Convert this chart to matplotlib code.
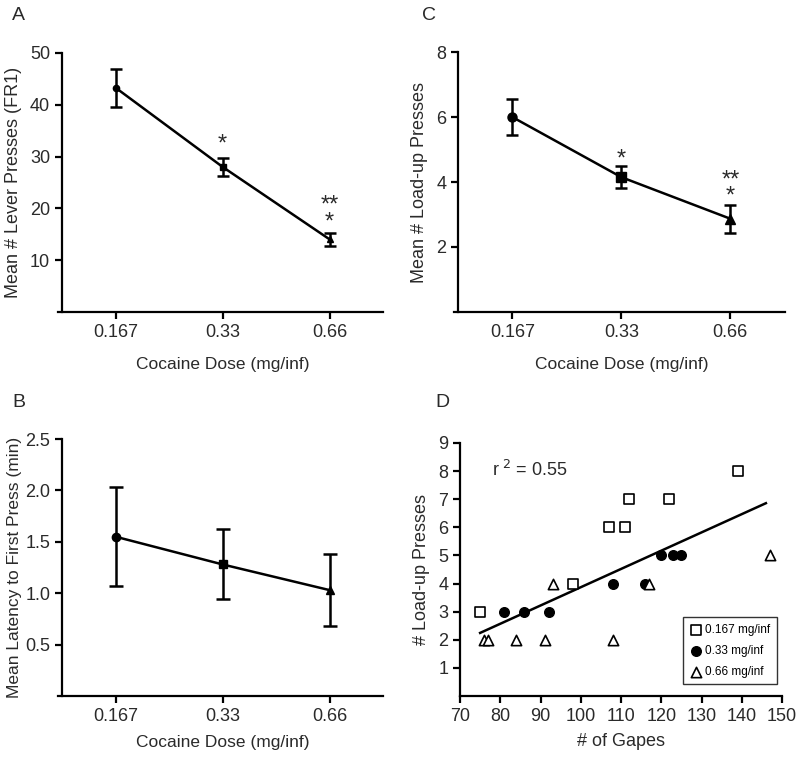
import numpy as np
import matplotlib
matplotlib.use("Agg")
import matplotlib.pyplot as plt

plt.rcParams['font.family'] = ['Liberation Sans', 'DejaVu Sans']
plt.rcParams['axes.linewidth'] = 1.6

doses = ['0.167', '0.33', '0.66']
markers = ['o', 's', '^']

# panel A: lever presses FR1
a_mean = [43.3, 28.0, 14.0]
a_err = [3.7, 1.8, 1.2]
# panel C: load-up presses
c_mean = [6.0, 4.15, 2.87]
c_err = [0.55, 0.33, 0.43]
# panel B: latency to first press
b_mean = [1.55, 1.28, 1.03]
b_err = [0.48, 0.34, 0.35]

# panel D: scatter (gapes vs load-up presses)
sq_x = [75, 98, 107, 111, 112, 122, 139]
sq_y = [3, 4, 6, 6, 7, 7, 8]
ci_x = [81, 86, 92, 108, 116, 120, 123, 125]
ci_y = [3, 3, 3, 4, 4, 5, 5, 5]
tr_x = [76, 77, 84, 91, 93, 108, 117, 147]
tr_y = [2, 2, 2, 2, 4, 2, 4, 5]

fig = plt.figure(figsize=(8, 7.57), dpi=100)
txtcol = '#2a2a2a'


def dose_panel(rect, mean, err, ylim, yticks, ylabel, msize, cap, fmt=None,
               ylfs=13, ylpad=6, xlpad=12):
    ax = fig.add_axes(rect)
    x = np.arange(len(mean))
    ax.plot(x, mean, color='black', lw=1.8, zorder=2)
    for i in range(len(mean)):
        ax.errorbar(x[i], mean[i], yerr=err[i], fmt=markers[i], color='black',
                    ms=msize, capsize=cap, elinewidth=1.8, capthick=1.8, zorder=3)
    ax.set_xlim(-0.5, 2.5)
    ax.set_ylim(*ylim)
    ax.set_xticks(x)
    ax.set_xticklabels(doses)
    ax.set_yticks(yticks)
    if fmt:
        ax.set_yticklabels([fmt % t for t in yticks])
    ax.spines['top'].set_visible(False)
    ax.spines['right'].set_visible(False)
    ax.spines['bottom'].set_bounds(-0.54, 2.5)
    ax.tick_params(direction='out', length=5, width=1.6, labelsize=13, labelcolor=txtcol)
    ax.set_ylabel(ylabel, fontsize=ylfs, color=txtcol, labelpad=ylpad)
    ax.set_xlabel('Cocaine Dose (mg/inf)', fontsize=12.5, color=txtcol, labelpad=xlpad)
    return ax


def stars(ax, xi, top, s, off, ls):
    ax.annotate(s, xy=(xi, top), xytext=(0, off), textcoords='offset points',
                ha='center', va='bottom', fontsize=17, color=txtcol, linespacing=ls)


axA = dose_panel([0.0775, 0.588, 0.4015, 0.342], a_mean, a_err, (0, 50),
                 [10, 20, 30, 40, 50], 'Mean # Lever Presses (FR1)', 4.5, 4)
stars(axA, 1, a_mean[1] + a_err[1], '*', 1.5, 1.0)
stars(axA, 2, a_mean[2] + a_err[2], '**\n*', -0.5, 0.72)

axC = dose_panel([0.5725, 0.588, 0.4085, 0.343], c_mean, c_err, (0, 8),
                 [2, 4, 6, 8], 'Mean # Load-up Presses', 6.5, 4)
stars(axC, 1, c_mean[1] + c_err[1], '*', -3, 1.0)
stars(axC, 2, c_mean[2] + c_err[2], '**\n*', -2, 0.62)

axB = dose_panel([0.0775, 0.0806, 0.4015, 0.3394], b_mean, b_err, (0, 2.5),
                 [0.5, 1.0, 1.5, 2.0, 2.5], 'Mean Latency to First Press (min)',
                 6, 5, fmt='%.1f', ylfs=12.5, ylpad=2, xlpad=7)

# panel D
axD = fig.add_axes([0.575, 0.0806, 0.4025, 0.3342])
axD.scatter(sq_x, sq_y, marker='s', s=48, facecolors='white', edgecolors='black',
            linewidths=1.2, label='0.167 mg/inf', zorder=3)
axD.scatter(ci_x, ci_y, marker='o', s=48, color='black', label='0.33 mg/inf', zorder=3)
axD.scatter(tr_x, tr_y, marker='^', s=55, facecolors='white', edgecolors='black',
            linewidths=1.2, label='0.66 mg/inf', zorder=3)
all_x = np.array(sq_x + ci_x + tr_x)
all_y = np.array(sq_y + ci_y + tr_y)
slope, icpt = np.polyfit(all_x, all_y, 1)
lx = np.array([all_x.min(), 146])
axD.plot(lx, slope * lx + icpt, color='black', lw=1.8, zorder=2)
axD.text(78, 8.05, r'r$^{\ 2}$ = 0.55', fontsize=13, va='center', color=txtcol)
axD.set_xlim(70, 150)
axD.set_ylim(0, 9)
axD.set_xticks(range(70, 151, 10))
axD.set_yticks(range(1, 10))
axD.spines['top'].set_visible(False)
axD.spines['right'].set_visible(False)
axD.tick_params(direction='out', length=5, width=1.6, labelsize=13, labelcolor=txtcol)
axD.set_xlabel('# of Gapes', fontsize=13, color=txtcol, labelpad=6)
axD.set_ylabel('# Load-up Presses', fontsize=13, color=txtcol, labelpad=6)
leg = axD.legend(loc='lower right', bbox_to_anchor=(0.984, 0.047), borderaxespad=0,
                 fontsize=8.5, frameon=True, fancybox=False, edgecolor='black',
                 handletextpad=0.3, borderpad=0.55, labelspacing=0.75, handlelength=1.0,
                 scatterpoints=1)
leg.get_frame().set_linewidth(1.0)

for lbl, (x, y) in zip('ACBD', [(0.015, 0.991), (0.528, 0.991), (0.015, 0.48), (0.544, 0.48)]):
    fig.text(x, y, lbl, fontsize=14, va='top', color=txtcol)

fig.savefig('out.png', dpi=100)
